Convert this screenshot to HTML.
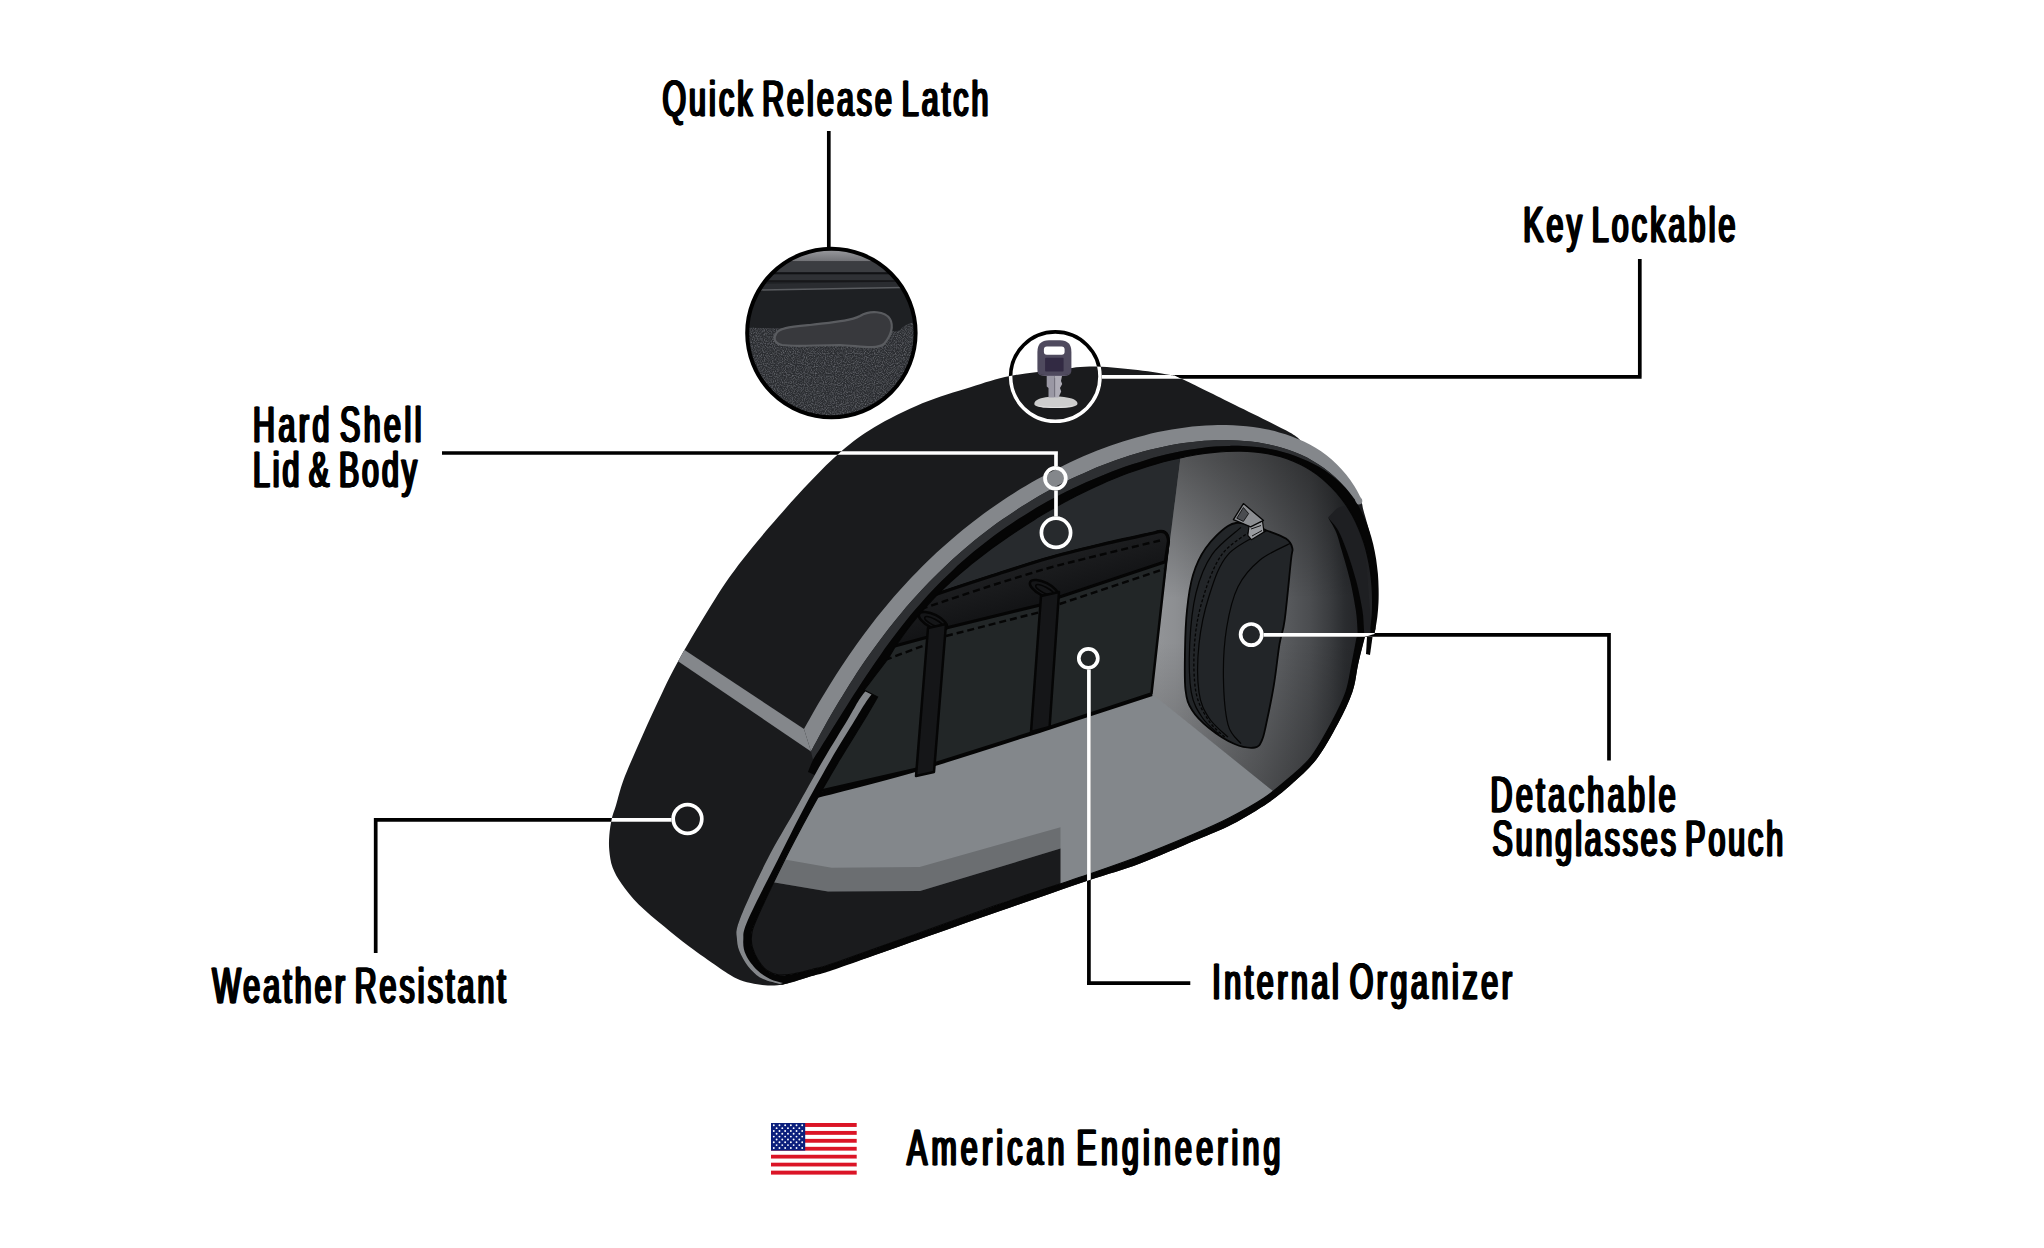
<!DOCTYPE html><html><head><meta charset="utf-8"><title>Saddlebag features</title><style>
html,body{margin:0;padding:0;background:#fff;}
body{width:2044px;height:1248px;overflow:hidden;position:relative;font-family:"Liberation Sans",sans-serif;}
svg{position:absolute;left:0;top:0;}
.lbl{font-family:"Liberation Sans",sans-serif;font-weight:400;font-size:50.5px;fill:#000;stroke:#000;stroke-width:0.5px;word-spacing:-8px;}
</style></head><body>
<svg width="2044" height="1248" viewBox="0 0 2044 1248">
<defs>
<clipPath id="cShell"><path d="M1089.6,366.4 C1102.6,366.2 1119.5,368 1132.7,369.4 C1145.9,370.8 1160.8,373.1 1169,374.7 C1177.2,376.3 1170.6,373.8 1181.6,378.8 C1192.6,383.9 1217,396.1 1235,405 C1253,413.9 1278.4,426.2 1289.8,432.5 C1301.2,438.8 1299,440.1 1303.1,442.9 C1307.3,445.7 1311,446.9 1314.7,449.2 C1318.5,451.5 1322.1,454 1325.7,456.7 C1329.2,459.4 1332.6,462.4 1335.9,465.6 C1339.2,468.8 1342.3,472.2 1345.3,475.9 C1348.3,479.7 1351.1,483.6 1353.8,487.8 C1356.4,492.1 1359.6,497.6 1361.2,501.4 C1362.9,505.2 1362,504.7 1363.5,510.6 C1365,516.5 1368.7,527.6 1370.5,537 C1372.3,546.4 1373.6,557.6 1374.5,567 C1375.4,576.4 1375.6,583.2 1375.8,593.5 C1376,603.8 1375.5,622.8 1375.5,628.7 C1375.3,629.6 1374.7,633.1 1374.5,634 C1372.8,634.5 1366.2,636.5 1364.5,637 C1363.5,641.5 1360.2,654.8 1358.2,664 C1356.2,673.2 1355.8,682.1 1352.4,692 C1349,701.9 1344,712.2 1338,723.4 C1332,734.6 1323.9,749.4 1316.3,759.4 C1308.7,769.4 1300.3,776.3 1292.3,783.5 C1284.3,790.7 1278.3,795.9 1268.3,802.7 C1258.3,809.5 1244.2,818.1 1232.2,824.3 C1220.2,830.5 1211.6,833.5 1196.2,840 C1180.8,846.5 1158.2,856.6 1140,863.4 C1121.8,870.2 1110,873.1 1086.7,881 C1063.4,888.9 1028.2,901.2 1000,911 C971.8,920.8 940.4,932 917.6,940 C894.8,948 881.3,952.9 863.3,959 C845.3,965.1 822.4,972.5 809.4,976.7 C796.4,980.9 791.9,982.5 785,984 C778.1,985.5 773.5,985.7 767.8,985.5 C762.1,985.3 756,984.2 750.7,983 C745.4,981.8 741.5,980.9 736,978.2 C730.5,975.5 725.5,972 717.7,966.7 C709.9,961.4 698.2,953.2 689.2,946.5 C680.2,939.8 672.3,933.3 663.9,926.3 C655.5,919.3 645.7,911.5 638.7,904.5 C631.7,897.5 626.2,890.5 621.9,884.3 C617.5,878.1 614.7,873.1 612.6,867.5 C610.5,861.9 609.8,855.9 609.3,850.6 C608.8,845.3 608.9,840.8 609.3,835.5 C609.7,830.2 610.7,823.8 611.8,818.7 C612.9,813.7 614,811.7 616,805.2 C618,798.8 619.8,790.1 623.5,780 C627.2,769.9 632.8,757.6 638.5,744.6 C644.2,731.6 651,716.4 657.7,702.3 C664.4,688.2 669.2,677.3 678.8,660 C688.4,642.7 704.8,615.2 715.4,598.5 C726,581.8 731.8,573.6 742.3,560 C752.8,546.4 766.8,530.1 778.1,517.1 C789.4,504.1 799.4,492.9 810.1,481.8 C820.8,470.7 831.5,459.7 842.2,450.6 C852.9,441.5 860.9,435.2 874.3,427.3 C887.6,419.4 906.3,410 922.3,403.3 C938.3,396.6 955.8,391.8 970.4,387.2 C985,382.6 996,378.8 1010,376 C1024,373.2 1041.1,371.9 1054.4,370.3 C1067.7,368.7 1076.5,366.5 1089.6,366.4 Z"/></clipPath>
<clipPath id="cInner"><path d="M864,690 C867.8,685 881.9,667.1 887,660 C892.1,652.9 892.1,651.5 894.7,647.5 C897.4,643.4 900.1,639.4 902.9,635.5 C905.6,631.7 908.5,627.9 911.4,624.2 C914.3,620.5 917.2,616.9 920.2,613.3 C923.3,609.8 926.3,606.4 929.5,603 C932.6,599.6 935.8,596.3 939,593.1 C942.3,589.8 945.6,586.7 948.9,583.5 C952.2,580.4 955.7,577.4 959.1,574.4 C962.6,571.4 966.1,568.4 969.6,565.5 C973.2,562.6 976.8,559.8 980.4,557 C984.1,554.2 987.8,551.4 991.5,548.6 C995.2,545.9 999,543.2 1002.9,540.5 C1006.7,537.8 1010.6,535.1 1014.5,532.5 C1018.4,529.9 1022.3,527.3 1026.3,524.7 C1030.3,522.1 1034.4,519.6 1038.4,517.1 C1042.5,514.6 1046.6,512.2 1050.8,509.8 C1054.9,507.4 1059.1,505 1063.3,502.7 C1067.5,500.4 1071.8,498.2 1076,496 C1080.3,493.8 1084.6,491.7 1089,489.6 C1093.3,487.5 1097.7,485.5 1102.1,483.6 C1106.5,481.6 1110.9,479.8 1115.4,478 C1119.8,476.2 1124.3,474.4 1128.8,472.8 C1133.3,471.1 1137.8,469.6 1142.4,468.1 C1146.9,466.6 1151.5,465.2 1156.1,463.9 C1160.7,462.5 1165.3,461.3 1169.9,460.2 C1174.6,459 1179.2,458 1183.9,457.1 C1188.5,456.1 1193.2,455.3 1197.9,454.5 C1202.6,453.8 1207.3,453.2 1212,452.7 C1216.8,452.1 1221.5,451.7 1226.2,451.5 C1230.9,451.3 1235.6,451.1 1240.2,451.2 C1244.9,451.3 1249.5,451.5 1254,451.9 C1258.6,452.3 1263.1,452.9 1267.6,453.7 C1272,454.5 1276.4,455.5 1280.7,456.7 C1285,457.9 1289.2,459.4 1293.3,461.1 C1297.4,462.8 1301.5,464.8 1305.3,467 C1309.2,469.2 1313,471.6 1316.7,474.3 C1320.3,477 1323.8,479.9 1327.1,483 C1330.5,486.1 1333.7,489.4 1336.7,492.9 C1339.7,496.4 1342.6,500.1 1345.3,504 C1347.9,507.8 1350.4,511.9 1352.7,516 C1355,520.2 1357,524.5 1358.9,529 C1360.8,533.4 1362.4,538 1363.9,542.6 C1365.4,547.2 1366.6,552 1367.7,556.8 C1368.8,561.5 1369.7,566.4 1370.4,571.2 C1371.1,576 1371.7,580.9 1372,585.8 C1372.4,590.6 1372.6,595.4 1372.6,600.2 C1372.7,605 1372.6,609.7 1372.3,614.4 C1372,619 1371.2,625.7 1371,628 C1371,629 1371,633 1371,634 C1368.7,634.7 1359.3,637.3 1357,638 C1356.2,642.3 1353.8,655 1352,664 C1350.2,673 1349.3,682.3 1346,692 C1342.7,701.7 1337.8,711.2 1332,722 C1326.2,732.8 1318.3,747.5 1311,757 C1303.7,766.5 1295.8,772.2 1288,779 C1280.2,785.8 1273.8,791.5 1264,798 C1254.2,804.5 1240.7,812 1229,818 C1217.3,824 1208.8,827.7 1194,834 C1179.2,840.3 1157.9,849.2 1140,856 C1122.1,862.8 1110,867 1086.7,875 C1063.4,883 1028.2,894.2 1000,904 C971.8,913.8 944.9,923.8 917.6,933.5 C890.3,943.2 853.6,956.5 836,962.5 C818.4,968.5 819.2,967.6 812,969.5 C804.8,971.4 798.5,973.1 793,974 C787.5,974.9 783.3,975.6 779,975 C774.7,974.4 770.5,973 767,970.5 C763.5,968 760.4,963.8 758,960 C755.6,956.2 753.6,952 752.5,948 C751.4,944 750.9,940.7 751.5,936 C752.1,931.3 750.7,932.7 756.2,920 C761.7,907.3 775.5,878.3 784.6,860 C793.7,841.7 801.8,826.7 810.9,810 C820,793.3 830.6,775 839.5,760 C848.4,745 857.8,730.5 864.1,720 C870.5,709.5 875.4,700.8 877.6,697 C875.3,695.8 866.3,691.2 864,690 Z"/></clipPath>
<linearGradient id="gWall" gradientUnits="userSpaceOnUse" x1="1160" y1="0" x2="1360" y2="0"><stop offset="0" stop-color="#919396"/><stop offset="0.075" stop-color="#8d8f92"/><stop offset="0.3" stop-color="#787a7d"/><stop offset="0.5" stop-color="#66686b"/><stop offset="0.65" stop-color="#56585b"/><stop offset="0.75" stop-color="#4b4d50"/><stop offset="0.85" stop-color="#3a3c3f"/><stop offset="0.925" stop-color="#2a2c2f"/><stop offset="1" stop-color="#232427"/></linearGradient>
<linearGradient id="gWallV" gradientUnits="userSpaceOnUse" x1="0" y1="460" x2="0" y2="790"><stop offset="0" stop-color="#000" stop-opacity="0.38"/><stop offset="0.42" stop-color="#000" stop-opacity="0"/><stop offset="0.55" stop-color="#000" stop-opacity="0"/><stop offset="1" stop-color="#000" stop-opacity="0.25"/></linearGradient>
<linearGradient id="gFlap" gradientUnits="userSpaceOnUse" x1="1047" y1="558" x2="1058" y2="596"><stop offset="0" stop-color="#1d1e20"/><stop offset="1" stop-color="#131416"/></linearGradient>
<clipPath id="cLatch"><circle cx="831.4" cy="333" r="84"/></clipPath>
<clipPath id="cKey"><circle cx="1055.3" cy="376.6" r="44"/></clipPath>
<filter id="noise" x="0" y="0" width="100%" height="100%"><feTurbulence type="fractalNoise" baseFrequency="0.9" numOctaves="2" seed="3"/><feColorMatrix values="0 0 0 0 0.28  0 0 0 0 0.29  0 0 0 0 0.32  0 0 0 1.3 -0.5"/><feComposite in2="SourceGraphic" operator="in"/></filter>
</defs>
<path d="M1089.6,366.4 C1102.6,366.2 1119.5,368 1132.7,369.4 C1145.9,370.8 1160.8,373.1 1169,374.7 C1177.2,376.3 1170.6,373.8 1181.6,378.8 C1192.6,383.9 1217,396.1 1235,405 C1253,413.9 1278.4,426.2 1289.8,432.5 C1301.2,438.8 1299,440.1 1303.1,442.9 C1307.3,445.7 1311,446.9 1314.7,449.2 C1318.5,451.5 1322.1,454 1325.7,456.7 C1329.2,459.4 1332.6,462.4 1335.9,465.6 C1339.2,468.8 1342.3,472.2 1345.3,475.9 C1348.3,479.7 1351.1,483.6 1353.8,487.8 C1356.4,492.1 1359.6,497.6 1361.2,501.4 C1362.9,505.2 1362,504.7 1363.5,510.6 C1365,516.5 1368.7,527.6 1370.5,537 C1372.3,546.4 1373.6,557.6 1374.5,567 C1375.4,576.4 1375.6,583.2 1375.8,593.5 C1376,603.8 1375.5,622.8 1375.5,628.7 C1375.3,629.6 1374.7,633.1 1374.5,634 C1372.8,634.5 1366.2,636.5 1364.5,637 C1363.5,641.5 1360.2,654.8 1358.2,664 C1356.2,673.2 1355.8,682.1 1352.4,692 C1349,701.9 1344,712.2 1338,723.4 C1332,734.6 1323.9,749.4 1316.3,759.4 C1308.7,769.4 1300.3,776.3 1292.3,783.5 C1284.3,790.7 1278.3,795.9 1268.3,802.7 C1258.3,809.5 1244.2,818.1 1232.2,824.3 C1220.2,830.5 1211.6,833.5 1196.2,840 C1180.8,846.5 1158.2,856.6 1140,863.4 C1121.8,870.2 1110,873.1 1086.7,881 C1063.4,888.9 1028.2,901.2 1000,911 C971.8,920.8 940.4,932 917.6,940 C894.8,948 881.3,952.9 863.3,959 C845.3,965.1 822.4,972.5 809.4,976.7 C796.4,980.9 791.9,982.5 785,984 C778.1,985.5 773.5,985.7 767.8,985.5 C762.1,985.3 756,984.2 750.7,983 C745.4,981.8 741.5,980.9 736,978.2 C730.5,975.5 725.5,972 717.7,966.7 C709.9,961.4 698.2,953.2 689.2,946.5 C680.2,939.8 672.3,933.3 663.9,926.3 C655.5,919.3 645.7,911.5 638.7,904.5 C631.7,897.5 626.2,890.5 621.9,884.3 C617.5,878.1 614.7,873.1 612.6,867.5 C610.5,861.9 609.8,855.9 609.3,850.6 C608.8,845.3 608.9,840.8 609.3,835.5 C609.7,830.2 610.7,823.8 611.8,818.7 C612.9,813.7 614,811.7 616,805.2 C618,798.8 619.8,790.1 623.5,780 C627.2,769.9 632.8,757.6 638.5,744.6 C644.2,731.6 651,716.4 657.7,702.3 C664.4,688.2 669.2,677.3 678.8,660 C688.4,642.7 704.8,615.2 715.4,598.5 C726,581.8 731.8,573.6 742.3,560 C752.8,546.4 766.8,530.1 778.1,517.1 C789.4,504.1 799.4,492.9 810.1,481.8 C820.8,470.7 831.5,459.7 842.2,450.6 C852.9,441.5 860.9,435.2 874.3,427.3 C887.6,419.4 906.3,410 922.3,403.3 C938.3,396.6 955.8,391.8 970.4,387.2 C985,382.6 996,378.8 1010,376 C1024,373.2 1041.1,371.9 1054.4,370.3 C1067.7,368.7 1076.5,366.5 1089.6,366.4 Z" fill="#1a1b1d"/>
<g clip-path="url(#cShell)">
<path d="M640,620.5 L804,729 L811,751.5 L640,635.5 Z" fill="#84878b"/>
</g>
<path d="M804,729 C805.2,726.9 808.6,720.6 811,716.5 C813.3,712.3 815.7,708.2 818.1,704.1 C820.5,700 822.9,696 825.4,692 C827.8,687.9 830.3,684 832.8,680 C835.3,676 837.8,672.1 840.3,668.2 C842.9,664.4 845.4,660.5 848,656.7 C850.7,652.9 853.3,649.1 856,645.3 C858.6,641.6 861.3,637.9 864,634.2 C866.8,630.5 869.5,626.9 872.3,623.3 C875.1,619.7 877.9,616.1 880.8,612.6 C883.7,609 886.6,605.5 889.5,602.1 C892.4,598.6 895.4,595.2 898.4,591.8 C901.4,588.4 904.5,585 907.5,581.7 C910.6,578.4 913.7,575.1 916.9,571.9 C920.1,568.6 923.3,565.4 926.5,562.2 C929.8,559.1 933.1,555.9 936.4,552.8 C939.8,549.7 943.1,546.7 946.6,543.7 C950,540.6 953.5,537.6 957,534.7 C960.5,531.8 964.1,528.9 967.7,526 C971.3,523.1 974.9,520.3 978.7,517.5 C982.4,514.7 986.1,512 989.9,509.3 C993.8,506.5 997.6,503.9 1001.5,501.2 C1005.4,498.6 1009.4,496 1013.4,493.5 C1017.4,490.9 1021.5,488.4 1025.6,486 C1029.7,483.5 1033.9,481.1 1038.1,478.8 C1042.3,476.4 1046.5,474.2 1050.8,471.9 C1055,469.7 1059.3,467.5 1063.7,465.4 C1068,463.3 1072.4,461.3 1076.7,459.3 C1081.1,457.3 1085.6,455.4 1090,453.6 C1094.4,451.7 1098.9,450 1103.4,448.3 C1107.9,446.6 1112.4,445 1116.9,443.5 C1121.4,442 1126,440.5 1130.5,439.2 C1135.1,437.8 1139.6,436.5 1144.2,435.4 C1148.8,434.2 1153.3,433.1 1157.9,432.1 C1162.5,431.1 1167.1,430.2 1171.7,429.5 C1176.2,428.7 1180.8,428 1185.4,427.4 C1190,426.8 1194.5,426.3 1199.1,426 C1203.7,425.6 1208.2,425.3 1212.7,425.2 C1217.3,425.1 1221.8,425 1226.3,425.1 C1230.8,425.2 1235.3,425.4 1239.8,425.8 C1244.3,426.1 1248.7,426.5 1253.1,427.1 C1257.6,427.7 1262,428.4 1266.3,429.3 C1270.7,430.2 1275,431.2 1279.2,432.4 C1283.5,433.5 1287.7,434.9 1291.8,436.4 C1295.9,437.9 1300,439.6 1303.9,441.5 C1307.9,443.4 1311.8,445.5 1315.5,447.8 C1319.3,450.1 1322.9,452.6 1326.5,455.3 C1330,458 1333.4,461 1336.7,464.2 C1340,467.4 1343.1,470.8 1346.1,474.5 C1349.1,478.3 1351.9,482.2 1354.6,486.4 C1357.2,490.7 1360.8,497.7 1362,500 L1355.3,500 C1353.7,498 1348.9,491.6 1345.6,487.8 C1342.2,484 1338.7,480.5 1335.2,477.3 C1331.6,474 1328,471.1 1324.3,468.3 C1320.6,465.6 1316.8,463.2 1312.9,460.9 C1309,458.6 1305.1,456.6 1301.1,454.8 C1297.1,453 1293,451.4 1288.9,450 C1284.8,448.5 1280.6,447.3 1276.4,446.2 C1272.2,445.2 1267.9,444.3 1263.6,443.5 C1259.3,442.7 1255,442.1 1250.7,441.6 C1246.3,441.1 1241.9,440.8 1237.5,440.5 C1233.1,440.3 1228.7,440.2 1224.2,440.1 C1219.8,440.1 1215.3,440.2 1210.9,440.5 C1206.4,440.7 1201.9,441 1197.4,441.4 C1192.9,441.9 1188.4,442.4 1183.9,443.1 C1179.4,443.7 1174.9,444.5 1170.3,445.3 C1165.8,446.2 1161.3,447.1 1156.8,448.2 C1152.3,449.2 1147.7,450.4 1143.2,451.6 C1138.7,452.8 1134.2,454.1 1129.7,455.6 C1125.3,457 1120.8,458.5 1116.3,460 C1111.9,461.6 1107.4,463.3 1103,465 C1098.6,466.7 1094.1,468.5 1089.8,470.4 C1085.4,472.3 1081,474.3 1076.7,476.3 C1072.3,478.3 1068,480.4 1063.8,482.6 C1059.5,484.7 1055.3,487 1051.1,489.3 C1046.8,491.5 1042.7,493.9 1038.5,496.3 C1034.4,498.7 1030.3,501.2 1026.3,503.7 C1022.2,506.2 1018.2,508.7 1014.3,511.4 C1010.3,514 1006.4,516.6 1002.6,519.3 C998.7,522 994.9,524.8 991.2,527.6 C987.5,530.4 983.8,533.2 980.1,536.1 C976.5,538.9 972.9,541.8 969.4,544.8 C965.8,547.7 962.3,550.7 958.9,553.8 C955.5,556.8 952.1,559.9 948.7,563 C945.4,566.1 942.1,569.2 938.8,572.4 C935.6,575.6 932.4,578.8 929.2,582.1 C926,585.3 922.9,588.6 919.8,592 C916.7,595.3 913.7,598.7 910.7,602.1 C907.7,605.5 904.8,608.9 901.8,612.4 C898.9,615.9 896,619.4 893.2,623 C890.4,626.5 887.6,630.1 884.8,633.7 C882,637.3 879.3,641 876.6,644.7 C873.9,648.3 871.2,652.1 868.6,655.8 C866,659.5 863.4,663.3 860.8,667.1 C858.2,670.9 855.7,674.8 853.2,678.7 C850.7,682.5 848.2,686.4 845.8,690.4 C843.3,694.3 840.9,698.3 838.5,702.3 C836.1,706.2 833.8,710.3 831.4,714.3 C829.1,718.4 826.8,722.4 824.5,726.6 C822.2,730.7 819.9,734.8 817.7,739 C815.4,743.1 812.1,749.4 811,751.5 Z" fill="#84878b"/>
<circle cx="1358.7" cy="501" r="3.6" fill="#84878b"/>
<path d="M811,751.5 C812.1,749.4 815.4,743.1 817.7,739 C819.9,734.8 822.2,730.7 824.5,726.6 C826.8,722.4 829.1,718.4 831.4,714.3 C833.8,710.3 836.1,706.2 838.5,702.3 C840.9,698.3 843.3,694.3 845.8,690.4 C848.2,686.4 850.7,682.5 853.2,678.7 C855.7,674.8 858.2,670.9 860.8,667.1 C863.4,663.3 866,659.5 868.6,655.8 C871.2,652.1 873.9,648.3 876.6,644.7 C879.3,641 882,637.3 884.8,633.7 C887.6,630.1 890.4,626.5 893.2,623 C896,619.4 898.9,615.9 901.8,612.4 C904.8,608.9 907.7,605.5 910.7,602.1 C913.7,598.7 916.7,595.3 919.8,592 C922.9,588.6 926,585.3 929.2,582.1 C932.4,578.8 935.6,575.6 938.8,572.4 C942.1,569.2 945.4,566.1 948.7,563 C952.1,559.9 955.5,556.8 958.9,553.8 C962.3,550.7 965.8,547.7 969.4,544.8 C972.9,541.8 976.5,538.9 980.1,536.1 C983.8,533.2 987.5,530.4 991.2,527.6 C994.9,524.8 998.7,522 1002.6,519.3 C1006.4,516.6 1010.3,514 1014.3,511.4 C1018.2,508.7 1022.2,506.2 1026.3,503.7 C1030.3,501.2 1034.4,498.7 1038.5,496.3 C1042.7,493.9 1046.8,491.5 1051.1,489.3 C1055.3,487 1059.5,484.7 1063.8,482.6 C1068,480.4 1072.3,478.3 1076.7,476.3 C1081,474.3 1085.4,472.3 1089.8,470.4 C1094.1,468.5 1098.6,466.7 1103,465 C1107.4,463.3 1111.9,461.6 1116.3,460 C1120.8,458.5 1125.3,457 1129.7,455.6 C1134.2,454.1 1138.7,452.8 1143.2,451.6 C1147.7,450.4 1152.3,449.2 1156.8,448.2 C1161.3,447.1 1165.8,446.2 1170.3,445.3 C1174.9,444.5 1179.4,443.7 1183.9,443.1 C1188.4,442.4 1192.9,441.9 1197.4,441.4 C1201.9,441 1206.4,440.7 1210.9,440.5 C1215.3,440.2 1219.8,440.1 1224.2,440.1 C1228.7,440.2 1233.1,440.3 1237.5,440.5 C1241.9,440.8 1246.3,441.1 1250.7,441.6 C1255,442.1 1259.3,442.7 1263.6,443.5 C1267.9,444.3 1272.2,445.2 1276.4,446.2 C1280.6,447.3 1284.8,448.5 1288.9,450 C1293,451.4 1297.1,453 1301.1,454.8 C1305.1,456.6 1309,458.6 1312.9,460.9 C1316.8,463.2 1320.6,465.6 1324.3,468.3 C1328,471.1 1333.4,475.8 1335.2,477.3 L1340.5,483.1 C1338.8,481.6 1333.9,477.1 1330.3,474.5 C1326.8,471.8 1323.1,469.4 1319.3,467.1 C1315.5,464.9 1311.5,462.8 1307.5,460.9 C1303.5,459.1 1299.4,457.4 1295.3,455.9 C1291.1,454.4 1286.9,453.1 1282.7,452 C1278.4,450.8 1274.1,449.9 1269.7,449 C1265.4,448.2 1261,447.6 1256.5,447.1 C1252.1,446.6 1247.6,446.3 1243.1,446.1 C1238.6,445.9 1234.1,445.8 1229.5,445.9 C1224.9,446 1220.3,446.2 1215.7,446.5 C1211.1,446.9 1206.5,447.3 1201.9,447.9 C1197.2,448.5 1192.6,449.2 1187.9,450 C1183.3,450.8 1178.6,451.7 1174,452.8 C1169.3,453.8 1164.7,454.9 1160,456.1 C1155.4,457.3 1150.8,458.6 1146.2,459.9 C1141.6,461.3 1137,462.8 1132.4,464.3 C1127.9,465.8 1123.3,467.4 1118.8,469 C1114.3,470.7 1109.8,472.4 1105.4,474.2 C1101,475.9 1096.6,477.8 1092.2,479.7 C1087.8,481.5 1083.5,483.5 1079.2,485.5 C1074.9,487.4 1070.7,489.5 1066.5,491.6 C1062.3,493.7 1058.1,495.8 1054,498.1 C1049.8,500.3 1045.8,502.5 1041.7,504.8 C1037.7,507.1 1033.6,509.5 1029.7,511.9 C1025.7,514.4 1021.8,516.8 1017.9,519.3 C1014,521.9 1010.2,524.5 1006.4,527.1 C1002.6,529.7 998.8,532.4 995.1,535.1 C991.4,537.9 987.7,540.6 984.1,543.5 C980.5,546.3 976.9,549.2 973.3,552.1 C969.8,555.1 966.3,558.1 962.9,561.1 C959.4,564.1 956,567.2 952.7,570.4 C949.3,573.5 946,576.7 942.7,579.9 C939.5,583.1 936.3,586.4 933.1,589.8 C929.9,593.1 926.8,596.5 923.7,599.9 C920.7,603.3 917.6,606.8 914.7,610.3 C911.7,613.9 908.8,617.4 905.9,621 C903,624.6 900.1,628.3 897.3,632 C894.5,635.6 891.7,639.4 889,643.1 C886.3,646.8 883.5,650.6 880.9,654.4 C878.2,658.2 875.5,662.1 872.9,665.9 C870.3,669.7 867.7,673.6 865.1,677.5 C862.6,681.4 860,685.3 857.5,689.2 C854.9,693.1 852.4,697 849.9,701 C847.4,704.9 844.9,708.9 842.5,712.8 C840,716.7 837.5,720.7 835.1,724.6 C832.6,728.6 830.1,732.5 827.7,736.5 C825.2,740.4 822.8,744.3 820.4,748.3 C817.9,752.2 814.2,758 813,760 Z" fill="#2d2f32"/>
<path d="M808,772 C808.8,770 810.9,764 813,760 C815.1,756 817.9,752.2 820.4,748.3 C822.8,744.3 825.2,740.4 827.7,736.5 C830.1,732.5 832.6,728.6 835.1,724.6 C837.5,720.7 840,716.7 842.5,712.8 C844.9,708.9 847.4,704.9 849.9,701 C852.4,697 854.9,693.1 857.5,689.2 C860,685.3 862.6,681.4 865.1,677.5 C867.7,673.6 870.3,669.7 872.9,665.9 C875.5,662.1 878.2,658.2 880.9,654.4 C883.5,650.6 886.3,646.8 889,643.1 C891.7,639.4 894.5,635.6 897.3,632 C900.1,628.3 903,624.6 905.9,621 C908.8,617.4 911.7,613.9 914.7,610.3 C917.6,606.8 920.7,603.3 923.7,599.9 C926.8,596.5 929.9,593.1 933.1,589.8 C936.3,586.4 939.5,583.1 942.7,579.9 C946,576.7 949.3,573.5 952.7,570.4 C956,567.2 959.4,564.1 962.9,561.1 C966.3,558.1 969.8,555.1 973.3,552.1 C976.9,549.2 980.5,546.3 984.1,543.5 C987.7,540.6 991.4,537.9 995.1,535.1 C998.8,532.4 1002.6,529.7 1006.4,527.1 C1010.2,524.5 1014,521.9 1017.9,519.3 C1021.8,516.8 1025.7,514.4 1029.7,511.9 C1033.6,509.5 1037.7,507.1 1041.7,504.8 C1045.8,502.5 1049.8,500.3 1054,498.1 C1058.1,495.8 1062.3,493.7 1066.5,491.6 C1070.7,489.5 1074.9,487.4 1079.2,485.5 C1083.5,483.5 1087.8,481.5 1092.2,479.7 C1096.6,477.8 1101,475.9 1105.4,474.2 C1109.8,472.4 1114.3,470.7 1118.8,469 C1123.3,467.4 1127.9,465.8 1132.4,464.3 C1137,462.8 1141.6,461.3 1146.2,459.9 C1150.8,458.6 1155.4,457.3 1160,456.1 C1164.7,454.9 1169.3,453.8 1174,452.8 C1178.6,451.7 1183.3,450.8 1187.9,450 C1192.6,449.2 1197.2,448.5 1201.9,447.9 C1206.5,447.3 1211.1,446.9 1215.7,446.5 C1220.3,446.2 1224.9,446 1229.5,445.9 C1234.1,445.8 1238.6,445.9 1243.1,446.1 C1247.6,446.3 1252.1,446.6 1256.5,447.1 C1261,447.6 1265.4,448.2 1269.7,449 C1274.1,449.9 1278.4,450.8 1282.7,452 C1286.9,453.1 1291.1,454.4 1295.3,455.9 C1299.4,457.4 1303.5,459.1 1307.5,460.9 C1311.5,462.8 1315.5,464.9 1319.3,467.1 C1323.1,469.4 1326.8,471.8 1330.3,474.5 C1333.9,477.1 1337.3,480 1340.5,483.1 C1343.7,486.1 1346.8,489.4 1349.6,493 C1352.4,496.5 1355,500.2 1357.4,504.2 C1359.8,508.2 1362,512.4 1363.9,516.7 C1365.9,521 1367.6,525.5 1369.1,530.1 C1370.7,534.8 1372,539.5 1373.2,544.3 C1374.3,549.1 1375.3,554 1376.1,558.9 C1376.8,563.8 1377.4,568.8 1377.9,573.7 C1378.3,578.6 1378.5,583.5 1378.6,588.4 C1378.7,593.2 1378.7,598 1378.5,602.6 C1378.3,607.3 1377.9,611.9 1377.4,616.3 C1376.9,620.7 1375.8,626.9 1375.5,629 C1375.2,629.8 1374.2,633.2 1374,634 C1372.5,634.5 1366.5,636.5 1365,637 C1363.9,641.5 1360.3,654.8 1358.2,664 C1356.1,673.2 1355.8,682.1 1352.4,692 C1349,701.9 1344,712.2 1338,723.4 C1332,734.6 1323.9,749.4 1316.3,759.4 C1308.7,769.4 1300.3,776.3 1292.3,783.5 C1284.3,790.7 1278.3,795.9 1268.3,802.7 C1258.3,809.5 1244.2,818.1 1232.2,824.3 C1220.2,830.5 1211.6,833.5 1196.2,840 C1180.8,846.5 1158.2,856.6 1140,863.4 C1121.8,870.2 1110,873.1 1086.7,881 C1063.4,888.9 1028.2,901.2 1000,911 C971.8,920.8 944.9,930.4 917.6,940 C890.3,949.6 854,962.8 836,968.9 C818,975 817.9,974.2 809.4,976.7 C800.9,979.2 789.9,982.8 785,984 C780.1,985.2 783.7,985 780,984.2 C776.3,983.4 767.9,981.5 763,979 C758.1,976.5 754.4,973.4 750.7,969.4 C747,965.4 743.3,959.6 741,954.7 C738.7,949.8 737.2,945.8 737,940 C736.8,934.2 734.6,933.3 739.6,920 C744.6,906.7 757.7,878.3 767,860 C776.3,841.7 787.2,824.2 795.2,810 C803.2,795.8 811.7,780.8 815,775 C813.8,774.5 809.2,772.5 808,772 Z" fill="#050505"/>
<path d="M866.8,689.8 C865.5,691.5 862.2,695 859,700 C855.8,705 853.5,710 847.5,720 C841.5,730 832,745 823.3,760 C814.6,775 804.6,793.3 795.2,810 C785.8,826.7 776.3,841.7 767,860 C757.7,878.3 744.6,906.7 739.6,920 C734.6,933.3 736.8,934.2 737,940 C737.2,945.8 738.7,949.8 741,954.7 C743.3,959.6 747,965.4 750.7,969.4 C754.4,973.4 758.1,976.6 763,979 C767.9,981.4 777.2,983.2 780,984 L783,983 C780.8,982.3 774.3,981.2 770,979 C765.7,976.8 761,974 757,970 C753,966 748.3,960 746,955 C743.7,950 743,945.8 743.3,940 C743.6,934.2 742.2,933.3 747.9,920 C753.6,906.7 768.5,878.3 777.7,860 C786.9,841.7 794.2,826.7 803,810 C811.8,793.3 822.1,775 830.7,760 C839.4,745 849,729.7 854.9,720 C860.8,710.3 863.1,706.5 866,702 C868.9,697.5 871.4,694.5 872.5,693 Z" fill="#84878b"/>
<g clip-path="url(#cInner)">
<rect x="700" y="430" width="700" height="580" fill="#272a2d"/>
<path d="M1184,430 L1150.5,693.5 L1275.5,793 L1420,793 L1420,430 Z" fill="url(#gWall)"/>
<path d="M1184,430 L1150.5,693.5 L1275.5,793 L1420,793 L1420,430 Z" fill="url(#gWallV)"/>
<path d="M760,812 L822.9,793.9 L920,768 L1049.6,727 L1151.8,693.6 L1275.5,793 L1400,793 L1400,1000 L700,1000 Z" fill="#83878b"/>
<path d="M740,855 L787.6,859.9 L831.6,867.8 L919.6,867 L1060.5,827.3 L1060.5,848.6 L920,891 L828,891.6 L771.7,881.9 L740,877 Z" fill="#6b6e71"/>
<path d="M740,877 L771.7,881.9 L828,891.6 L920,891 L1060.5,848.6 L1060.5,1000 L700,1000 Z" fill="#1a1b1d"/>
<path d="M800,800 C803.8,799 802.9,799.2 822.9,793.9 C842.9,788.6 882.2,779.1 920,768 C957.8,756.9 1011,739.4 1049.6,727 C1088.2,714.6 1134.8,699.2 1151.8,693.6" fill="none" stroke="#050505" stroke-width="5"/>
<path d="M780,650 C796.7,644.2 855,623.9 880,615 C905,606.1 911.7,602.9 930,596.5 C948.3,590.1 970.5,582.8 990,576.5 C1009.5,570.2 1028.7,563.8 1047,558.5 C1065.3,553.2 1081.9,549.3 1100,545 C1118.1,540.7 1146.3,534.6 1155.6,532.5 Q1167.5,528 1168.5,541 L1151.5,693.5 L1049.6,727 L920,768 L780,800 Z" fill="#222627" stroke="#050505" stroke-width="2.5" stroke-linejoin="round"/>
<path d="M780,650 C796.7,644.2 855,623.9 880,615 C905,606.1 911.7,602.9 930,596.5 C948.3,590.1 970.5,582.8 990,576.5 C1009.5,570.2 1028.7,563.8 1047,558.5 C1065.3,553.2 1081.9,549.3 1100,545 C1118.1,540.7 1146.3,534.6 1155.6,532.5 Q1167.5,528 1168.5,541 L1165.3,561.7 L1059.5,597 L1040.3,605 L946,628 L928,637 L880,650 L780,670 Z" fill="url(#gFlap)" stroke="#050505" stroke-width="3.2" stroke-linejoin="round"/>
<path d="M900,616 C905,614.3 915,611 930,606 C945,601 970.5,592.2 990,586 C1009.5,579.8 1028.7,573.7 1047,568.5 C1065.3,563.3 1081.2,559.7 1100,555 C1118.8,550.3 1150,542.9 1160,540.5" fill="none" stroke="#050505" stroke-width="2.4" stroke-dasharray="7 4"/>
<path d="M885,660 L928,644" fill="none" stroke="#050505" stroke-width="2.4" stroke-dasharray="7 4"/>
<path d="M946,636 L1040.3,612" fill="none" stroke="#050505" stroke-width="2.4" stroke-dasharray="7 4"/>
<path d="M1059.5,604 L1164,569" fill="none" stroke="#050505" stroke-width="2.4" stroke-dasharray="7 4"/>
<ellipse cx="933" cy="621" rx="15.5" ry="6.5" transform="rotate(27 933 621)" fill="#151618" stroke="#050505" stroke-width="2.5"/>
<ellipse cx="934" cy="621.5" rx="10" ry="3" transform="rotate(27 933 621)" fill="none" stroke="#050505" stroke-width="1.5"/>
<path d="M928,628 L946,624 L934,772 L916,776 Z" fill="#151618" stroke="#050505" stroke-width="2.5" stroke-linejoin="round"/>
<ellipse cx="1044" cy="589" rx="15.5" ry="6.5" transform="rotate(27 1044 589)" fill="#151618" stroke="#050505" stroke-width="2.5"/>
<ellipse cx="1045" cy="589.5" rx="10" ry="3" transform="rotate(27 1044 589)" fill="none" stroke="#050505" stroke-width="1.5"/>
<path d="M1041,596 L1059,592 L1049.6,727 L1031,732 Z" fill="#151618" stroke="#050505" stroke-width="2.5" stroke-linejoin="round"/>
<path d="M1228,526 C1234.5,521.9 1238.5,522.8 1245,523.5 C1251.5,524.2 1259.9,528 1266.7,530.5 C1273.5,533 1281.6,535.7 1285.9,538.6 C1290.2,541.5 1291.5,544.4 1292.3,548 C1293.1,551.6 1292.3,548 1291,560 C1289.7,572 1286.6,605.8 1284.7,619.8 C1282.8,633.8 1281.3,633.2 1279.5,644 C1277.7,654.8 1276.2,671.3 1273.9,684.8 C1271.7,698.3 1268,715.8 1266,725 C1264,734.2 1263.8,736.2 1262,740 C1260.2,743.8 1259.6,746.8 1255,747.5 C1250.4,748.2 1242.3,747.2 1234.6,744 C1226.9,740.8 1216.1,733.7 1209,728 C1201.9,722.3 1195.9,716.3 1192,710 C1188.1,703.7 1186.7,700 1185.5,690 C1184.3,680 1184.8,663.3 1185,650 C1185.2,636.7 1185.7,622.5 1187,610 C1188.3,597.5 1189.9,585.3 1193,575 C1196.1,564.7 1200,556.2 1205.8,548 C1211.6,539.8 1221.5,530.1 1228,526 Z" fill="#222528" stroke="#050505" stroke-width="1.8"/>
<path d="M1241,527.4 C1236.2,531.9 1219.5,543.7 1212,554.6 C1204.5,565.5 1199.7,578 1196,593 C1192.3,608 1190.5,627.8 1189.7,644.4 C1188.9,661 1189.2,680.1 1191.3,692.4 C1193.4,704.7 1198,711.1 1202.6,718 C1207.1,724.9 1215.9,731.3 1218.6,734" fill="none" stroke="#050505" stroke-width="1.2"/>
<path d="M1253.8,529 C1248.5,533.3 1230.3,542.9 1221.8,554.6 C1213.3,566.4 1207.1,584.5 1202.6,599.5 C1198,614.5 1195.6,628.9 1194.5,644.4 C1193.4,659.9 1193.6,679.6 1196,692.4 C1198.4,705.2 1204.2,713.5 1209,721 C1213.8,728.5 1222.3,734.5 1225,737.2" fill="none" stroke="#050505" stroke-width="1.3" stroke-dasharray="3 2"/>
<path d="M1266.7,530.5 C1260.2,534.5 1237.6,543.6 1228,554.6 C1218.4,565.6 1213.8,581.3 1209,596.2 C1204.2,611.1 1200.7,628 1199,644 C1197.3,660 1197.3,680.1 1199,692.4 C1200.7,704.7 1204.2,710.5 1209,718 C1213.8,725.5 1224.8,734 1228,737.2" fill="none" stroke="#050505" stroke-width="1.2"/>
<path d="M1291,543 C1285.8,545.8 1268.8,552.7 1260,560 C1251.2,567.3 1243.6,575.4 1238,586.7 C1232.4,598 1229,613.1 1226.6,628 C1224.2,642.9 1223.2,659.9 1223.4,676 C1223.6,692.1 1225.1,713.3 1228,724.6 C1230.9,735.9 1238.8,740.4 1241,743.6" fill="none" stroke="#050505" stroke-width="1.2"/>
<path d="M1249,526 L1262.5,521 L1264,532 L1251.4,539.7 L1247.8,535.3 Z" fill="#9a9ca0" stroke="#050505" stroke-width="1.2" stroke-linejoin="round"/>
<path d="M1251,529 L1261,525.5 M1252,536 L1262,530.5" stroke="#050505" stroke-width="0.9"/>
<path d="M1243.4,503.6 L1263.5,520.4 L1250.6,526.8 L1233.4,519.6 Z" fill="#8c8e92" stroke="#050505" stroke-width="1.3" stroke-linejoin="round"/>
<path d="M1243.4,507.5 L1248.6,513.6 L1243.4,521.4 L1236.8,518.2 Z" fill="#4a4c50" stroke="#050505" stroke-width="0.8"/>
<path d="M1328,517.6 C1329.7,519.7 1334.9,524.6 1338,530 C1341.1,535.4 1343.5,541.7 1346.5,550 C1349.5,558.3 1353.3,570 1356,580 C1358.7,590 1361.1,601.7 1362.4,610 C1363.7,618.3 1363.6,624.2 1364,630 C1364.4,635.8 1365.7,639.3 1365,645 C1364.3,650.7 1360.8,660.8 1360,664 L1360,664 C1361,660.8 1364.2,650 1366,645 C1367.8,640 1370.3,639.8 1371,634 C1371.7,628.2 1371.2,624 1370,610 C1368.8,596 1367.3,566.3 1364,550 C1360.7,533.7 1354,519.2 1350,512 C1346,504.8 1343.7,506.1 1340,507 C1336.3,507.9 1330,515.8 1328,517.6 Z" fill="#1e1f22"/>
<path d="M1328,517.6 C1329.3,520 1333.7,526.6 1336,532 C1338.3,537.4 1339.3,542 1341.6,550 C1343.9,558 1347.6,570 1350,580 C1352.4,590 1354.5,601.7 1355.8,610 C1357,618.3 1357.3,625 1357.5,630 C1357.7,635 1357.9,634.3 1357,640 C1356.1,645.7 1352.8,660 1352,664 L1360,664 C1360.8,660.8 1364.3,650.7 1365,645 C1365.7,639.3 1364.4,635.8 1364,630 C1363.6,624.2 1363.7,618.3 1362.4,610 C1361.1,601.7 1358.7,590 1356,580 C1353.3,570 1349.5,558.3 1346.5,550 C1343.5,541.7 1341.1,535.4 1338,530 C1334.9,524.6 1329.7,519.7 1328,517.6 Z" fill="#050505"/>
</g>
<path d="M864,690 C867.8,685 881.9,667.1 887,660 C892.1,652.9 892.1,651.5 894.7,647.5 C897.4,643.4 900.1,639.4 902.9,635.5 C905.6,631.7 908.5,627.9 911.4,624.2 C914.3,620.5 917.2,616.9 920.2,613.3 C923.3,609.8 926.3,606.4 929.5,603 C932.6,599.6 935.8,596.3 939,593.1 C942.3,589.8 945.6,586.7 948.9,583.5 C952.2,580.4 955.7,577.4 959.1,574.4 C962.6,571.4 966.1,568.4 969.6,565.5 C973.2,562.6 976.8,559.8 980.4,557 C984.1,554.2 987.8,551.4 991.5,548.6 C995.2,545.9 999,543.2 1002.9,540.5 C1006.7,537.8 1010.6,535.1 1014.5,532.5 C1018.4,529.9 1022.3,527.3 1026.3,524.7 C1030.3,522.1 1034.4,519.6 1038.4,517.1 C1042.5,514.6 1046.6,512.2 1050.8,509.8 C1054.9,507.4 1059.1,505 1063.3,502.7 C1067.5,500.4 1071.8,498.2 1076,496 C1080.3,493.8 1084.6,491.7 1089,489.6 C1093.3,487.5 1097.7,485.5 1102.1,483.6 C1106.5,481.6 1110.9,479.8 1115.4,478 C1119.8,476.2 1124.3,474.4 1128.8,472.8 C1133.3,471.1 1137.8,469.6 1142.4,468.1 C1146.9,466.6 1151.5,465.2 1156.1,463.9 C1160.7,462.5 1165.3,461.3 1169.9,460.2 C1174.6,459 1179.2,458 1183.9,457.1 C1188.5,456.1 1193.2,455.3 1197.9,454.5 C1202.6,453.8 1207.3,453.2 1212,452.7 C1216.8,452.1 1221.5,451.7 1226.2,451.5 C1230.9,451.3 1235.6,451.1 1240.2,451.2 C1244.9,451.3 1249.5,451.5 1254,451.9 C1258.6,452.3 1263.1,452.9 1267.6,453.7 C1272,454.5 1276.4,455.5 1280.7,456.7 C1285,457.9 1289.2,459.4 1293.3,461.1 C1297.4,462.8 1301.5,464.8 1305.3,467 C1309.2,469.2 1313,471.6 1316.7,474.3 C1320.3,477 1323.8,479.9 1327.1,483 C1330.5,486.1 1333.7,489.4 1336.7,492.9 C1339.7,496.4 1342.6,500.1 1345.3,504 C1347.9,507.8 1350.4,511.9 1352.7,516 C1355,520.2 1357,524.5 1358.9,529 C1360.8,533.4 1362.4,538 1363.9,542.6 C1365.4,547.2 1366.6,552 1367.7,556.8 C1368.8,561.5 1369.7,566.4 1370.4,571.2 C1371.1,576 1371.7,580.9 1372,585.8 C1372.4,590.6 1372.6,595.4 1372.6,600.2 C1372.7,605 1372.6,609.7 1372.3,614.4 C1372,619 1371.2,625.7 1371,628 C1371,629 1371,633 1371,634 C1368.7,634.7 1359.3,637.3 1357,638 C1356.2,642.3 1353.8,655 1352,664 C1350.2,673 1349.3,682.3 1346,692 C1342.7,701.7 1337.8,711.2 1332,722 C1326.2,732.8 1318.3,747.5 1311,757 C1303.7,766.5 1295.8,772.2 1288,779 C1280.2,785.8 1273.8,791.5 1264,798 C1254.2,804.5 1240.7,812 1229,818 C1217.3,824 1208.8,827.7 1194,834 C1179.2,840.3 1157.9,849.2 1140,856 C1122.1,862.8 1110,867 1086.7,875 C1063.4,883 1028.2,894.2 1000,904 C971.8,913.8 944.9,923.8 917.6,933.5 C890.3,943.2 853.6,956.5 836,962.5 C818.4,968.5 819.2,967.6 812,969.5 C804.8,971.4 798.5,973.1 793,974 C787.5,974.9 783.3,975.6 779,975 C774.7,974.4 770.5,973 767,970.5 C763.5,968 760.4,963.8 758,960 C755.6,956.2 753.6,952 752.5,948 C751.4,944 750.9,940.7 751.5,936 C752.1,931.3 750.7,932.7 756.2,920 C761.7,907.3 775.5,878.3 784.6,860 C793.7,841.7 801.8,826.7 810.9,810 C820,793.3 830.6,775 839.5,760 C848.4,745 857.8,730.5 864.1,720 C870.5,709.5 875.4,700.8 877.6,697 C875.3,695.8 866.3,691.2 864,690 Z" fill="none" stroke="#050505" stroke-width="1.2"/>
<path d="M1367,637 L1372.5,637 L1370,655 L1366,654 Z" fill="#050505"/>
<path d="M828.8,131 L828.8,248" fill="none" stroke="#000" stroke-width="3.7"/>
<path d="M1101.5,376.9 L1641.6,376.9 M1639.8,376.9 L1639.8,259" fill="none" stroke="#000" stroke-width="3.7"/>
<path d="M442,453 L1057.9,453 M1056,451.2 L1056,466 M1056,490.5 L1056,516.5" fill="none" stroke="#000" stroke-width="3.7"/>
<path d="M375.7,953 L375.7,818 M373.9,819.9 L671.5,819.9" fill="none" stroke="#000" stroke-width="3.7"/>
<path d="M1088.9,669.5 L1088.9,985 M1087,983.2 L1190.3,983.2" fill="none" stroke="#000" stroke-width="3.7"/>
<path d="M1263.6,634.8 L1610.8,634.8 M1609,633 L1609,760.4" fill="none" stroke="#000" stroke-width="3.7"/>
<g clip-path="url(#cShell)">
<path d="M1101.5,376.9 L1641.6,376.9 M1639.8,376.9 L1639.8,259" fill="none" stroke="#fff" stroke-width="3.7"/>
<path d="M442,453 L1057.9,453 M1056,451.2 L1056,466 M1056,490.5 L1056,516.5" fill="none" stroke="#fff" stroke-width="3.7"/>
<path d="M375.7,953 L375.7,818 M373.9,819.9 L671.5,819.9" fill="none" stroke="#fff" stroke-width="3.7"/>
<path d="M1088.9,669.5 L1088.9,985 M1087,983.2 L1190.3,983.2" fill="none" stroke="#fff" stroke-width="3.7"/>
<path d="M1263.6,634.8 L1610.8,634.8 M1609,633 L1609,760.4" fill="none" stroke="#fff" stroke-width="3.7"/>
</g>
<circle cx="1055.4" cy="478.3" r="10.4" fill="none" stroke="#fff" stroke-width="3.7"/>
<circle cx="1056" cy="532.8" r="14.6" fill="none" stroke="#fff" stroke-width="3.7"/>
<circle cx="687.5" cy="819" r="14.3" fill="none" stroke="#fff" stroke-width="3.7"/>
<circle cx="1088.3" cy="658.3" r="9.5" fill="none" stroke="#fff" stroke-width="3.7"/>
<circle cx="1251.2" cy="634.6" r="10.6" fill="none" stroke="#fff" stroke-width="3.7"/>
<g clip-path="url(#cLatch)">
<rect x="740" y="240" width="190" height="190" fill="#1e2023"/>
<linearGradient id="gCap" x1="0" y1="0" x2="0" y2="1"><stop offset="0" stop-color="#aeafb2"/><stop offset="0.6" stop-color="#8e8f93"/><stop offset="1" stop-color="#707175"/></linearGradient>
<rect x="740" y="240" width="190" height="21.5" fill="url(#gCap)"/>
<rect x="740" y="261.3" width="190" height="11" fill="#3b3d41"/>
<rect x="740" y="272.4" width="190" height="2" fill="#111214"/>
<rect x="740" y="274.4" width="190" height="6" fill="#2f3135"/>
<rect x="740" y="280.4" width="190" height="1.3" fill="#141517"/>
<path d="M740,284 L920,281.5 L920,287 L740,290 Z" fill="#2a2c30"/>
<path d="M740,290.4 L920,287.2" stroke="#5a5c60" stroke-width="1.3"/>
<path d="M740,327 C780,330 830,326 870,328 C890,330 897,334 902,328 C908,322 915,322 925,324 L925,430 L740,430 Z" fill="#2b2d31"/>
<path d="M740,327 C780,330 830,326 870,328 C890,330 897,334 902,328 C908,322 915,322 925,324 L925,430 L740,430 Z" fill="#3a3c40" filter="url(#noise)" opacity="0.9"/>
<path d="M776,334 C778,328 790,327 810,325 C835,322 850,321 860,316 C870,310 885,311 890,319 C894,326 891,336 884,344 C876,350 860,346 840,345 C815,345 795,347 782,345 C774,343 773,338 776,334 Z" fill="#38393d" stroke="#5a5c60" stroke-width="2.2"/>
</g>
<circle cx="831.4" cy="333" r="84.2" fill="none" stroke="#000" stroke-width="4"/>
<circle cx="1055.3" cy="376.6" r="44.7" fill="none" stroke="#000" stroke-width="3.6"/>
<g clip-path="url(#cShell)"><circle cx="1055.3" cy="376.6" r="44.7" fill="none" stroke="#fff" stroke-width="3.6"/></g>
<path d="M1034.3,404 C1034.3,399.5 1042,397.5 1048,397 C1052,396 1058,396 1064,397 C1072,398 1077.5,400 1077.5,403.5 C1077.5,406.8 1070,408 1056,408 C1042,408 1034.3,406.8 1034.3,404 Z" fill="#cdcdcd"/>
<path d="M1037,405.5 C1045,407.5 1068,407.5 1075,405 C1072,407.6 1060,408 1056,408 C1046,408 1039,407.3 1037,405.5 Z" fill="#e2e2e2"/>
<path d="M1046.7,375.5 L1054.7,375.5 L1054.7,397.5 L1048.5,397.5 L1048.5,388 L1046.7,386.5 Z" fill="#9a98a4"/>
<path d="M1054.7,375.5 L1062.1,375.5 L1061,381 L1062.2,384 L1060,388 L1061.2,391.5 L1058.5,397.5 L1054.7,397.5 Z" fill="#aeacb6"/>
<path d="M1054.7,378 L1054.7,397" stroke="#6e6c78" stroke-width="0.8"/>
<path d="M1037.4,352 Q1037.4,340.2 1049,340.2 L1060,340.2 Q1071.4,340.2 1071.4,352 L1071.4,369 Q1071.4,375.1 1065,375.1 L1044,375.1 Q1037.4,375.1 1037.4,369 Z" fill="#4f4a5e"/>
<path d="M1037.6,369 Q1037.6,375 1044,375 L1065,375 Q1071.2,375 1071.2,369 L1071.2,372 Q1070,376 1064,376 L1045,376 Q1038.5,376 1037.6,372 Z" fill="#5d586c"/>
<rect x="1043.9" y="346.4" width="20.7" height="8.4" rx="3" fill="#fff"/>
<rect x="1045.1" y="357.8" width="18.5" height="13.6" rx="1" fill="#322a43"/>
<g>
<rect x="771" y="1123.00" width="85.7" height="3.97" fill="#db1426"/>
<rect x="771" y="1126.97" width="85.7" height="3.97" fill="#ffffff"/>
<rect x="771" y="1130.94" width="85.7" height="3.97" fill="#db1426"/>
<rect x="771" y="1134.91" width="85.7" height="3.97" fill="#ffffff"/>
<rect x="771" y="1138.88" width="85.7" height="3.97" fill="#db1426"/>
<rect x="771" y="1142.85" width="85.7" height="3.97" fill="#ffffff"/>
<rect x="771" y="1146.82" width="85.7" height="3.97" fill="#db1426"/>
<rect x="771" y="1150.79" width="85.7" height="3.97" fill="#ffffff"/>
<rect x="771" y="1154.76" width="85.7" height="3.97" fill="#db1426"/>
<rect x="771" y="1158.73" width="85.7" height="3.97" fill="#ffffff"/>
<rect x="771" y="1162.70" width="85.7" height="3.97" fill="#db1426"/>
<rect x="771" y="1166.67" width="85.7" height="3.97" fill="#ffffff"/>
<rect x="771" y="1170.64" width="85.7" height="3.97" fill="#db1426"/>
<rect x="771" y="1123" width="34.2" height="27.6" fill="#0b1f7c"/>
<circle cx="773.80" cy="1125.30" r="0.95" fill="#fff"/>
<circle cx="779.48" cy="1125.30" r="0.95" fill="#fff"/>
<circle cx="785.16" cy="1125.30" r="0.95" fill="#fff"/>
<circle cx="790.84" cy="1125.30" r="0.95" fill="#fff"/>
<circle cx="796.52" cy="1125.30" r="0.95" fill="#fff"/>
<circle cx="802.20" cy="1125.30" r="0.95" fill="#fff"/>
<circle cx="776.60" cy="1128.13" r="0.95" fill="#fff"/>
<circle cx="782.28" cy="1128.13" r="0.95" fill="#fff"/>
<circle cx="787.96" cy="1128.13" r="0.95" fill="#fff"/>
<circle cx="793.64" cy="1128.13" r="0.95" fill="#fff"/>
<circle cx="799.32" cy="1128.13" r="0.95" fill="#fff"/>
<circle cx="773.80" cy="1130.96" r="0.95" fill="#fff"/>
<circle cx="779.48" cy="1130.96" r="0.95" fill="#fff"/>
<circle cx="785.16" cy="1130.96" r="0.95" fill="#fff"/>
<circle cx="790.84" cy="1130.96" r="0.95" fill="#fff"/>
<circle cx="796.52" cy="1130.96" r="0.95" fill="#fff"/>
<circle cx="802.20" cy="1130.96" r="0.95" fill="#fff"/>
<circle cx="776.60" cy="1133.79" r="0.95" fill="#fff"/>
<circle cx="782.28" cy="1133.79" r="0.95" fill="#fff"/>
<circle cx="787.96" cy="1133.79" r="0.95" fill="#fff"/>
<circle cx="793.64" cy="1133.79" r="0.95" fill="#fff"/>
<circle cx="799.32" cy="1133.79" r="0.95" fill="#fff"/>
<circle cx="773.80" cy="1136.62" r="0.95" fill="#fff"/>
<circle cx="779.48" cy="1136.62" r="0.95" fill="#fff"/>
<circle cx="785.16" cy="1136.62" r="0.95" fill="#fff"/>
<circle cx="790.84" cy="1136.62" r="0.95" fill="#fff"/>
<circle cx="796.52" cy="1136.62" r="0.95" fill="#fff"/>
<circle cx="802.20" cy="1136.62" r="0.95" fill="#fff"/>
<circle cx="776.60" cy="1139.45" r="0.95" fill="#fff"/>
<circle cx="782.28" cy="1139.45" r="0.95" fill="#fff"/>
<circle cx="787.96" cy="1139.45" r="0.95" fill="#fff"/>
<circle cx="793.64" cy="1139.45" r="0.95" fill="#fff"/>
<circle cx="799.32" cy="1139.45" r="0.95" fill="#fff"/>
<circle cx="773.80" cy="1142.28" r="0.95" fill="#fff"/>
<circle cx="779.48" cy="1142.28" r="0.95" fill="#fff"/>
<circle cx="785.16" cy="1142.28" r="0.95" fill="#fff"/>
<circle cx="790.84" cy="1142.28" r="0.95" fill="#fff"/>
<circle cx="796.52" cy="1142.28" r="0.95" fill="#fff"/>
<circle cx="802.20" cy="1142.28" r="0.95" fill="#fff"/>
<circle cx="776.60" cy="1145.11" r="0.95" fill="#fff"/>
<circle cx="782.28" cy="1145.11" r="0.95" fill="#fff"/>
<circle cx="787.96" cy="1145.11" r="0.95" fill="#fff"/>
<circle cx="793.64" cy="1145.11" r="0.95" fill="#fff"/>
<circle cx="799.32" cy="1145.11" r="0.95" fill="#fff"/>
<circle cx="773.80" cy="1147.94" r="0.95" fill="#fff"/>
<circle cx="779.48" cy="1147.94" r="0.95" fill="#fff"/>
<circle cx="785.16" cy="1147.94" r="0.95" fill="#fff"/>
<circle cx="790.84" cy="1147.94" r="0.95" fill="#fff"/>
<circle cx="796.52" cy="1147.94" r="0.95" fill="#fff"/>
<circle cx="802.20" cy="1147.94" r="0.95" fill="#fff"/>
</g>
<g transform="translate(662.40,116.1)">
<text class="lbl" transform="translate(-1.00,0) scale(0.6,1)" x="0" y="0" textLength="543.3" lengthAdjust="spacing">Quick Release Latch</text>
<text class="lbl" transform="translate(-0.50,0) scale(0.6,1)" x="0" y="0" textLength="543.3" lengthAdjust="spacing">Quick Release Latch</text>
<text class="lbl" transform="translate(0.00,0) scale(0.6,1)" x="0" y="0" textLength="543.3" lengthAdjust="spacing">Quick Release Latch</text>
<text class="lbl" transform="translate(0.50,0) scale(0.6,1)" x="0" y="0" textLength="543.3" lengthAdjust="spacing">Quick Release Latch</text>
<text class="lbl" transform="translate(1.00,0) scale(0.6,1)" x="0" y="0" textLength="543.3" lengthAdjust="spacing">Quick Release Latch</text>
</g>
<g transform="translate(1523.20,242.1)">
<text class="lbl" transform="translate(-1.00,0) scale(0.6,1)" x="0" y="0" textLength="353.7" lengthAdjust="spacing">Key Lockable</text>
<text class="lbl" transform="translate(-0.50,0) scale(0.6,1)" x="0" y="0" textLength="353.7" lengthAdjust="spacing">Key Lockable</text>
<text class="lbl" transform="translate(0.00,0) scale(0.6,1)" x="0" y="0" textLength="353.7" lengthAdjust="spacing">Key Lockable</text>
<text class="lbl" transform="translate(0.50,0) scale(0.6,1)" x="0" y="0" textLength="353.7" lengthAdjust="spacing">Key Lockable</text>
<text class="lbl" transform="translate(1.00,0) scale(0.6,1)" x="0" y="0" textLength="353.7" lengthAdjust="spacing">Key Lockable</text>
</g>
<g transform="translate(253.00,441.9)">
<text class="lbl" transform="translate(-1.00,0) scale(0.6,1)" x="0" y="0" textLength="280.7" lengthAdjust="spacing">Hard Shell</text>
<text class="lbl" transform="translate(-0.50,0) scale(0.6,1)" x="0" y="0" textLength="280.7" lengthAdjust="spacing">Hard Shell</text>
<text class="lbl" transform="translate(0.00,0) scale(0.6,1)" x="0" y="0" textLength="280.7" lengthAdjust="spacing">Hard Shell</text>
<text class="lbl" transform="translate(0.50,0) scale(0.6,1)" x="0" y="0" textLength="280.7" lengthAdjust="spacing">Hard Shell</text>
<text class="lbl" transform="translate(1.00,0) scale(0.6,1)" x="0" y="0" textLength="280.7" lengthAdjust="spacing">Hard Shell</text>
</g>
<g transform="translate(253.00,486.9)">
<text class="lbl" transform="translate(-1.00,0) scale(0.6,1)" x="0" y="0" textLength="273.3" lengthAdjust="spacing">Lid &amp; Body</text>
<text class="lbl" transform="translate(-0.50,0) scale(0.6,1)" x="0" y="0" textLength="273.3" lengthAdjust="spacing">Lid &amp; Body</text>
<text class="lbl" transform="translate(0.00,0) scale(0.6,1)" x="0" y="0" textLength="273.3" lengthAdjust="spacing">Lid &amp; Body</text>
<text class="lbl" transform="translate(0.50,0) scale(0.6,1)" x="0" y="0" textLength="273.3" lengthAdjust="spacing">Lid &amp; Body</text>
<text class="lbl" transform="translate(1.00,0) scale(0.6,1)" x="0" y="0" textLength="273.3" lengthAdjust="spacing">Lid &amp; Body</text>
</g>
<g transform="translate(212.20,1003.4)">
<text class="lbl" transform="translate(-1.00,0) scale(0.6,1)" x="0" y="0" textLength="489.3" lengthAdjust="spacing">Weather Resistant</text>
<text class="lbl" transform="translate(-0.50,0) scale(0.6,1)" x="0" y="0" textLength="489.3" lengthAdjust="spacing">Weather Resistant</text>
<text class="lbl" transform="translate(0.00,0) scale(0.6,1)" x="0" y="0" textLength="489.3" lengthAdjust="spacing">Weather Resistant</text>
<text class="lbl" transform="translate(0.50,0) scale(0.6,1)" x="0" y="0" textLength="489.3" lengthAdjust="spacing">Weather Resistant</text>
<text class="lbl" transform="translate(1.00,0) scale(0.6,1)" x="0" y="0" textLength="489.3" lengthAdjust="spacing">Weather Resistant</text>
</g>
<g transform="translate(1212.20,998.7)">
<text class="lbl" transform="translate(-1.00,0) scale(0.6,1)" x="0" y="0" textLength="499.3" lengthAdjust="spacing">Internal Organizer</text>
<text class="lbl" transform="translate(-0.50,0) scale(0.6,1)" x="0" y="0" textLength="499.3" lengthAdjust="spacing">Internal Organizer</text>
<text class="lbl" transform="translate(0.00,0) scale(0.6,1)" x="0" y="0" textLength="499.3" lengthAdjust="spacing">Internal Organizer</text>
<text class="lbl" transform="translate(0.50,0) scale(0.6,1)" x="0" y="0" textLength="499.3" lengthAdjust="spacing">Internal Organizer</text>
<text class="lbl" transform="translate(1.00,0) scale(0.6,1)" x="0" y="0" textLength="499.3" lengthAdjust="spacing">Internal Organizer</text>
</g>
<g transform="translate(1490.60,812.0)">
<text class="lbl" transform="translate(-1.00,0) scale(0.6,1)" x="0" y="0" textLength="308.3" lengthAdjust="spacing">Detachable</text>
<text class="lbl" transform="translate(-0.50,0) scale(0.6,1)" x="0" y="0" textLength="308.3" lengthAdjust="spacing">Detachable</text>
<text class="lbl" transform="translate(0.00,0) scale(0.6,1)" x="0" y="0" textLength="308.3" lengthAdjust="spacing">Detachable</text>
<text class="lbl" transform="translate(0.50,0) scale(0.6,1)" x="0" y="0" textLength="308.3" lengthAdjust="spacing">Detachable</text>
<text class="lbl" transform="translate(1.00,0) scale(0.6,1)" x="0" y="0" textLength="308.3" lengthAdjust="spacing">Detachable</text>
</g>
<g transform="translate(1492.60,856.4)">
<text class="lbl" transform="translate(-1.00,0) scale(0.6,1)" x="0" y="0" textLength="484.0" lengthAdjust="spacing">Sunglasses Pouch</text>
<text class="lbl" transform="translate(-0.50,0) scale(0.6,1)" x="0" y="0" textLength="484.0" lengthAdjust="spacing">Sunglasses Pouch</text>
<text class="lbl" transform="translate(0.00,0) scale(0.6,1)" x="0" y="0" textLength="484.0" lengthAdjust="spacing">Sunglasses Pouch</text>
<text class="lbl" transform="translate(0.50,0) scale(0.6,1)" x="0" y="0" textLength="484.0" lengthAdjust="spacing">Sunglasses Pouch</text>
<text class="lbl" transform="translate(1.00,0) scale(0.6,1)" x="0" y="0" textLength="484.0" lengthAdjust="spacing">Sunglasses Pouch</text>
</g>
<g transform="translate(907.00,1165.4)">
<text class="lbl" transform="translate(-1.00,0) scale(0.6,1)" x="0" y="0" textLength="622.3" lengthAdjust="spacing">American Engineering</text>
<text class="lbl" transform="translate(-0.50,0) scale(0.6,1)" x="0" y="0" textLength="622.3" lengthAdjust="spacing">American Engineering</text>
<text class="lbl" transform="translate(0.00,0) scale(0.6,1)" x="0" y="0" textLength="622.3" lengthAdjust="spacing">American Engineering</text>
<text class="lbl" transform="translate(0.50,0) scale(0.6,1)" x="0" y="0" textLength="622.3" lengthAdjust="spacing">American Engineering</text>
<text class="lbl" transform="translate(1.00,0) scale(0.6,1)" x="0" y="0" textLength="622.3" lengthAdjust="spacing">American Engineering</text>
</g>
</svg></body></html>
